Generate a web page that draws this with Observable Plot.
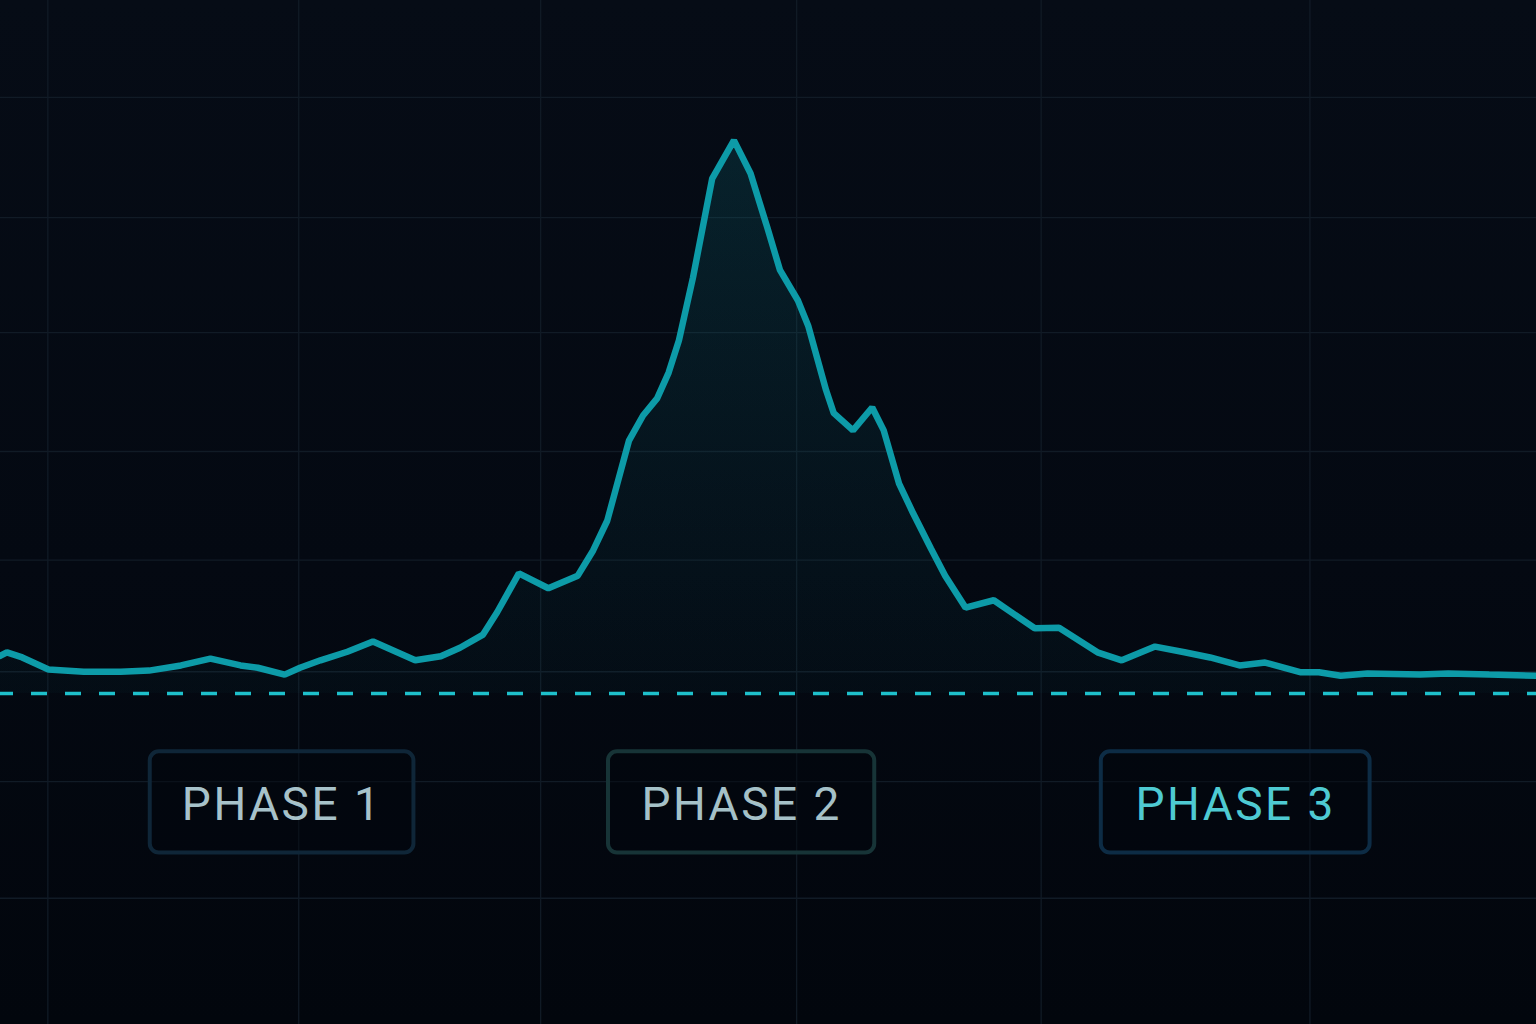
<!DOCTYPE html>
<html>
<head>
<meta charset="utf-8">
<script src="https://cdn.jsdelivr.net/npm/d3@7"></script>
<script src="https://cdn.jsdelivr.net/npm/@observablehq/plot@0.6"></script>
<style>
  html, body { margin: 0; padding: 0; background: #04090f; }
  #chart svg text { letter-spacing: 2.5px; }
</style>
</head>
<body>
<div id="chart"></div>
<script>
// ---- data ----
const time = [0, 0.5, 1.7, 3.75, 6.5, 9.4, 11.6, 14.1, 16.4, 18.75, 20.1, 22.2, 23.4, 25.0, 27.1, 29.1,
  32.4, 34.4, 35.9, 37.7, 38.8, 40.5, 42.8, 45.1, 46.3, 47.4, 49.1, 50.2, 51.3, 52.2, 53.0, 54.1,
  55.6, 57.3, 58.6, 59.9, 60.9, 62.3, 63.1, 64.5, 65.1, 66.6, 68.1, 69.0, 70.2, 71.3, 72.7, 73.8,
  75.4, 77.6, 80.8, 82.7, 85.7, 87.6, 90.2, 92.5, 94.5, 96.8, 98.8, 101.6, 103.0, 104.7, 106.8,
  110.9, 113.1, 116.3, 120];
const level = [6.6, 7.2, 6.3, 4.2, 3.8, 3.8, 4.0, 4.9, 6.1, 4.9, 4.5, 3.3, 4.5, 5.8, 7.3, 9.1,
  5.8, 6.5, 8.0, 10.3, 14.2, 21.0, 18.4, 20.6, 25.0, 30.2, 44.2, 48.6, 51.6, 56.1, 61.7, 72.7,
  90.0, 96.7, 90.9, 81.5, 74.0, 68.7, 64.3, 53.0, 49.0, 46.0, 50.0, 46.0, 36.7, 31.5, 25.3, 20.6,
  15.0, 16.3, 11.4, 11.5, 7.2, 5.8, 8.2, 7.2, 6.3, 4.9, 5.4, 3.7, 3.7, 3.1, 3.5,
  3.3, 3.5, 3.3, 3.1];
const baseline = [0];
const gridX = [3.7, 23.3, 42.2, 62.2, 81.3, 102.3];
const gridY = [-35.8, -15.4, 3.8, 23.3, 42.3, 63.1, 83.2, 104.2];
const phaseLabels = ["PHASE 1", "PHASE 2", "PHASE 3"];
const phaseStart = [11.7, 47.5, 86.0];
const phaseEnd = [32.3, 68.3, 107.0];

// ---- layout / style ----
const xDomain = [0, 120];
const yDomain = [-57.87, 121.15];
const boxTop = -10.2, boxBottom = -27.9, labelY = -19.6;
const phaseBorder = ["#0f2638", "#173437", "#0d2c45"];
const phaseText = ["#a7c2ca", "#a5c1c8", "#4ecad2"];

const series = time.map((t, i) => ({t, v: level[i]}));
const phases = phaseLabels.map((label, i) => ({
  label, x1: phaseStart[i], x2: phaseEnd[i], xm: (phaseStart[i] + phaseEnd[i]) / 2,
  border: phaseBorder[i], color: phaseText[i]
}));

const svg = Plot.plot({
  width: 1536,
  height: 1024,
  margin: 0,
  x: {domain: xDomain, axis: null},
  y: {domain: yDomain, axis: null},
  color: {type: "identity"},
  style: {background: "linear-gradient(180deg, #060c16 0%, #040912 55%, #02060d 100%)", overflow: "visible"},
  marks: [
    Plot.ruleY(gridY, {stroke: "#111b26", strokeWidth: 1.3}),
    Plot.ruleX(gridX, {stroke: "#111b26", strokeWidth: 1.3}),
    Plot.areaY(series, {x: "t", y: "v", fill: "url(#areaGrad)"}),
    Plot.ruleY(baseline, {stroke: "#1ec0cb", strokeWidth: 3.5, strokeDasharray: "16,18", strokeDashoffset: 3}),
    Plot.lineY(series, {x: "t", y: "v", stroke: "#0d9ba8", strokeWidth: 6.5, strokeLinejoin: "miter"}),
    Plot.rect(phases, {x1: "x1", x2: "x2", y1: boxTop, y2: boxBottom, fill: "#03070e", fillOpacity: 0.45,
      stroke: "border", strokeWidth: 4, rx: 9}),
    Plot.text(phases, {x: "xm", y: labelY, text: "label", fill: "color", fontSize: 46,
      fontFamily: "Roboto", fontWeight: 400, lineAnchor: "middle", textAnchor: "middle"})
  ]
});

svg.insertAdjacentHTML("afterbegin",
  `<defs><linearGradient id="areaGrad" x1="0" y1="0" x2="0" y2="1">
     <stop offset="0%" stop-color="#12a3ae" stop-opacity="0.15"/>
     <stop offset="60%" stop-color="#12a3ae" stop-opacity="0.07"/>
     <stop offset="100%" stop-color="#12a3ae" stop-opacity="0.03"/>
   </linearGradient></defs>`);

document.getElementById("chart").appendChild(svg);
</script>
</body>
</html>
